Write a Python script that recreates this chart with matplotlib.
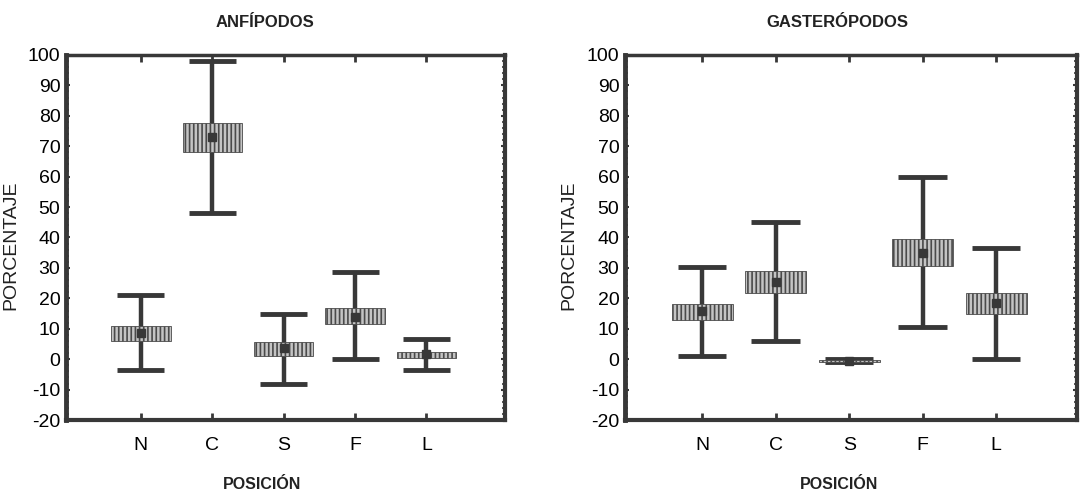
import matplotlib.pyplot as plt
import numpy as np
from matplotlib.ticker import MultipleLocator

plt.rcParams['font.family'] = ['Liberation Sans', 'DejaVu Sans']
plt.rcParams['hatch.linewidth'] = 1.2
plt.rcParams['axes.unicode_minus'] = False

posiciones = ['N', 'C', 'S', 'F', 'L']

# Anfípodos
anf_media = [8.5, 73, 3.6, 14, 1.6]
anf_caja_inf = [6, 68.2, 1.1, 11.5, 0.5]
anf_caja_sup = [11, 77.7, 5.7, 16.8, 2.4]
anf_bigote_inf = [-3.6, 48, -8, 0, -3.6]
anf_bigote_sup = [21, 98, 15, 28.7, 6.6]

# Gasterópodos
gas_media = [15.8, 25.4, -0.5, 35, 18.4]
gas_caja_inf = [13, 21.8, -0.8, 30.6, 15]
gas_caja_sup = [18.3, 29, -0.2, 39.5, 21.6]
gas_bigote_inf = [1, 5.9, -1, 10.6, 0]
gas_bigote_sup = [30.4, 45.2, 0, 59.8, 36.6]

DARK = '#383838'

fig = plt.figure(figsize=(10.85, 4.98), dpi=100)
ax1 = fig.add_axes([0.0608, 0.1566, 0.4046, 0.733])
ax2 = fig.add_axes([0.576, 0.1566, 0.4166, 0.733])


def dibujar(ax, titulo, media, c_inf, c_sup, b_inf, b_sup, tx, lx):
    x = np.arange(len(posiciones))
    ax.vlines(x, b_inf, b_sup, color=DARK, lw=3.2, zorder=2)
    ax.hlines(b_inf, x - 0.33, x + 0.33, color=DARK, lw=3.5, zorder=2)
    ax.hlines(b_sup, x - 0.33, x + 0.33, color=DARK, lw=3.5, zorder=2)
    alturas = np.array(c_sup) - np.array(c_inf)
    ax.bar(x, alturas, bottom=c_inf, width=0.83, color='#c4c4c4',
           edgecolor='#4a4a4a', hatch='||||', lw=0.6, zorder=3)
    ax.plot(x, media, 's', color=DARK, ms=6, zorder=4)

    ax.set_xlim(-1.05, 5.1)
    ax.set_ylim(-20, 100)
    ax.set_xticks(x)
    ax.set_xticklabels(posiciones, fontsize=14)
    ax.yaxis.set_major_locator(MultipleLocator(10))
    ax.yaxis.set_minor_locator(MultipleLocator(2))
    ax.tick_params(axis='y', which='major', direction='in', length=3, width=1.5,
                   left=True, right=True, labelsize=14, pad=4, color=DARK)
    ax.tick_params(axis='y', which='minor', direction='in', length=2, width=1.2,
                   left=True, right=True, color=DARK)
    ax.tick_params(axis='x', direction='in', length=5, width=2, top=True,
                   bottom=True, labelsize=14, pad=12, color=DARK)
    for s, w in [('left', 3.5), ('bottom', 3), ('top', 2.5), ('right', 3)]:
        ax.spines[s].set_linewidth(w)
        ax.spines[s].set_color(DARK)

    ax.set_title(titulo, x=tx, fontsize=12, fontweight='bold', pad=20, color='#222222')
    ax.set_xlabel('POSICIÓN', fontsize=11.5, fontweight='bold', color='#222222')
    ax.xaxis.set_label_coords(lx, -0.155)
    ax.set_ylabel('PORCENTAJE', fontsize=14, color='#222222')
    ax.yaxis.set_label_coords(-0.105, 0.48)


dibujar(ax1, 'ANFÍPODOS', anf_media, anf_caja_inf, anf_caja_sup,
        anf_bigote_inf, anf_bigote_sup, 0.453, 0.446)
dibujar(ax2, 'GASTERÓPODOS', gas_media, gas_caja_inf, gas_caja_sup,
        gas_bigote_inf, gas_bigote_sup, 0.471, 0.473)

fig.savefig('out.png', dpi=100)
